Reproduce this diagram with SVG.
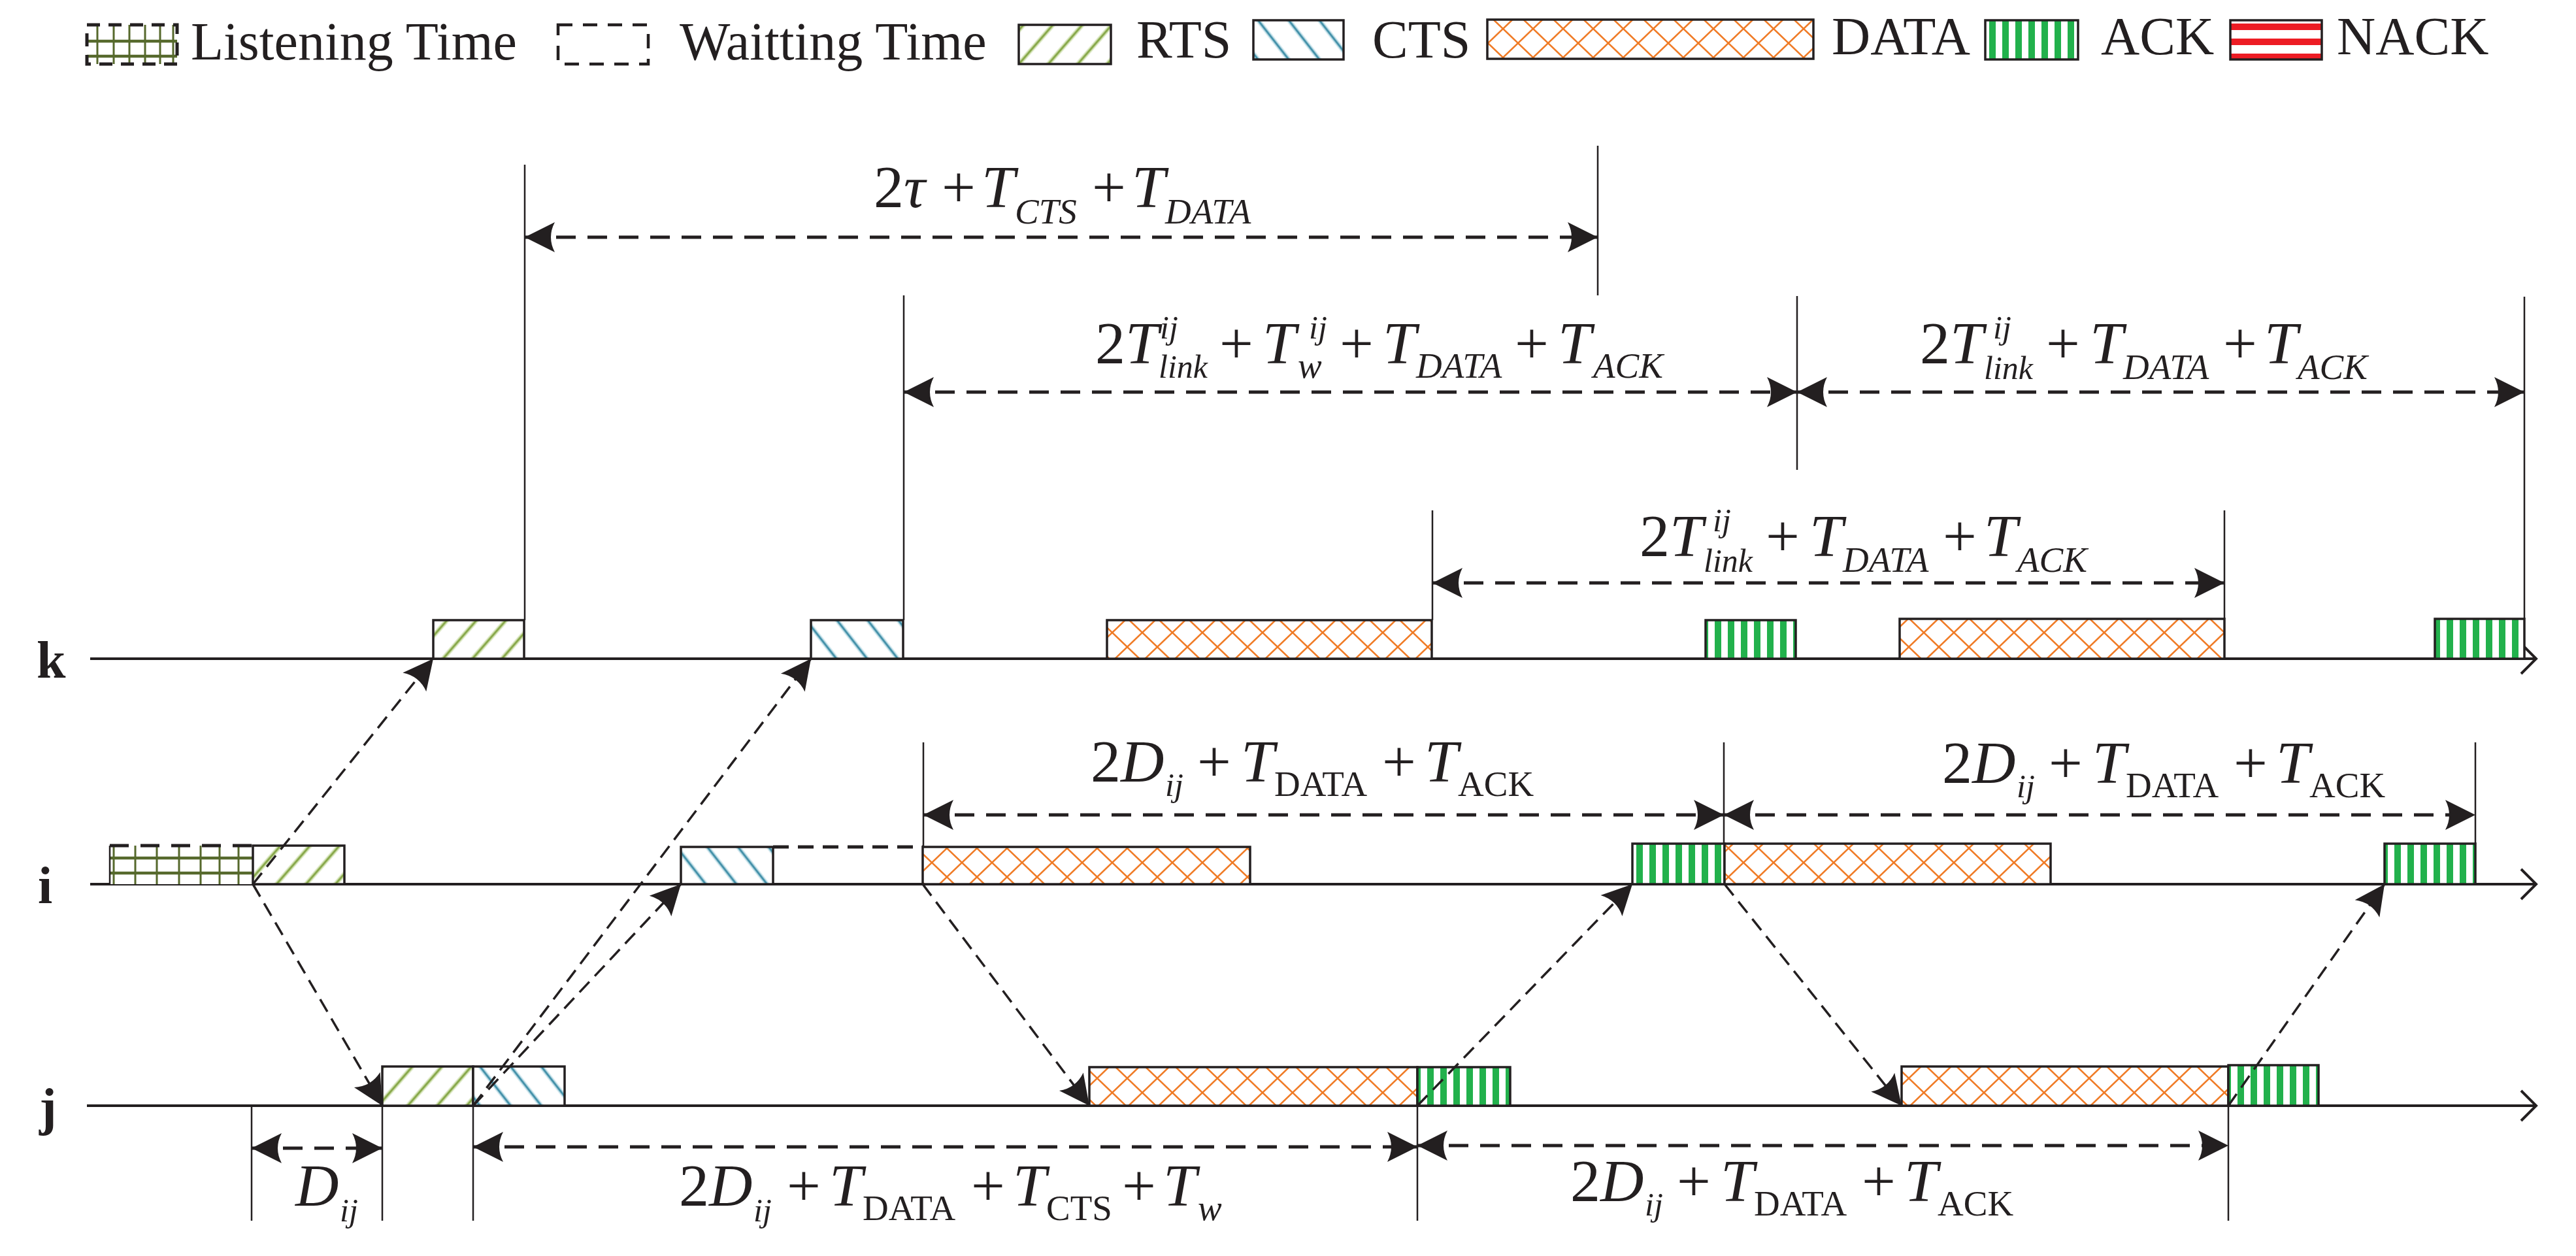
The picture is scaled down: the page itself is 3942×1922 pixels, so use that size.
<svg xmlns="http://www.w3.org/2000/svg" width="3942" height="1922" viewBox="0 0 3942 1922">
<style>
.t{font-family:"Liberation Serif","Times New Roman",serif;fill:#231f20}
.lg{font-size:82px}
.ax{font-size:80px;font-weight:bold}
.m{font-size:92px}
.i{font-style:italic}
.s{font-size:55px}
.ss{font-size:50px}
.box{stroke:#231f20;stroke-width:3.5}
.axis{stroke:#231f20;stroke-width:4;fill:none}
.ext{stroke:#231f20;stroke-width:2.5;fill:none}
.dim{stroke:#231f20;stroke-width:5;stroke-dasharray:30 18;fill:none;marker-start:url(#arr);marker-end:url(#arr)}
.dg{stroke:#231f20;stroke-width:3.5;stroke-dasharray:22 12;fill:none;marker-end:url(#arr)}
.grid{stroke:#56692c;fill:none}
</style>
<defs>
<marker id="arr" markerUnits="userSpaceOnUse" viewBox="-48 -25 50 50" markerWidth="50" markerHeight="50" refX="0" refY="0" orient="auto-start-reverse">
<path d="M0,0 L-46,-23 Q-34,0 -46,23 Z" fill="#231f20"/>
</marker>
<pattern id="pRTS" patternUnits="userSpaceOnUse" width="34" height="34" patternTransform="rotate(41)">
<rect width="34" height="34" fill="#fff"/>
<line x1="17" y1="-2" x2="17" y2="36" stroke="#d5e4b9" stroke-width="7"/>
<line x1="17" y1="-2" x2="17" y2="36" stroke="#85a646" stroke-width="3"/>
</pattern>
<pattern id="pCTS" patternUnits="userSpaceOnUse" width="37" height="37" patternTransform="rotate(-38)">
<rect width="37" height="37" fill="#fff"/>
<line x1="18" y1="-2" x2="18" y2="39" stroke="#c6e2ea" stroke-width="7"/>
<line x1="18" y1="-2" x2="18" y2="39" stroke="#3f8ea7" stroke-width="3"/>
</pattern>
<pattern id="pDATA" patternUnits="userSpaceOnUse" width="46" height="44">
<rect width="46" height="44" fill="#fff"/>
<path d="M0,0 L46,44 M46,0 L0,44" stroke="#f07b26" stroke-width="2.6" fill="none"/>
</pattern>
<pattern id="pACK" patternUnits="userSpaceOnUse" width="20" height="20">
<rect width="20" height="20" fill="#fff"/>
<rect x="4" width="10" height="20" fill="#22b14c"/>
</pattern>
<pattern id="pNACK" patternUnits="userSpaceOnUse" width="20" height="23">
<rect width="20" height="23" fill="#fff"/>
<rect y="13" width="20" height="10" fill="#ed1c24"/>
</pattern>
</defs>
<rect width="3942" height="1922" fill="#fff"/>

<g id="legend">
<g id="legend-listening">
<rect x="133" y="38" width="138" height="60" fill="#fff"/>
<path class="grid" stroke-width="3" d="M149,38V98 M174,38V98 M198,38V98 M222,38V98 M245,38V98 M265,38V98"/>
<path class="grid" stroke-width="4.5" d="M133,63H271 M133,86H271"/>
<rect x="133" y="38" width="138" height="60" fill="none" stroke="#231f20" stroke-width="5" stroke-dasharray="20 13"/>
<text class="t lg" x="292" y="91">Listening Time</text>
</g>
<g id="legend-waiting">
<rect x="854" y="38" width="138" height="60" fill="none" stroke="#231f20" stroke-width="4.5" stroke-dasharray="22 16"/>
<text class="t lg" x="1040" y="91">Waitting Time</text>
</g>
<g id="legend-rts">
<rect class="box" x="1559" y="38" width="141" height="60" fill="url(#pRTS)"/>
<text class="t lg" x="1739" y="88">RTS</text>
</g>
<g id="legend-cts">
<rect class="box" x="1918" y="31" width="138" height="60" fill="url(#pCTS)"/>
<text class="t lg" x="2100" y="88">CTS</text>
</g>
<g id="legend-data">
<rect class="box" x="2276" y="30" width="499" height="60" fill="url(#pDATA)"/>
<text class="t lg" x="2803" y="83">DATA</text>
</g>
<g id="legend-ack">
<rect class="box" x="3038" y="31" width="142" height="60" fill="url(#pACK)"/>
<text class="t lg" x="3215" y="83">ACK</text>
</g>
<g id="legend-nack">
<rect class="box" x="3413" y="31" width="140" height="60" fill="url(#pNACK)"/>
<text class="t lg" x="3576" y="83">NACK</text>
</g>
</g>

<g id="axes">
<path class="axis" d="M138,1008H3881 M3858,985L3881,1008L3858,1031"/>
<path class="axis" d="M138,1353H3881 M3858,1330L3881,1353L3858,1376"/>
<path class="axis" d="M133,1692H3881 M3858,1669L3881,1692L3858,1715"/>
<text class="t ax" x="56" y="1037">k</text>
<text class="t ax" x="58" y="1382">i</text>
<text class="t ax" x="60" y="1721">j</text>
</g>

<g id="node-k">
<rect id="k-rts" class="box" x="663" y="949" width="139" height="59" fill="url(#pRTS)"/>
<rect id="k-cts" class="box" x="1241" y="949" width="141" height="59" fill="url(#pCTS)"/>
<rect id="k-data1" class="box" x="1694" y="949" width="497" height="59" fill="url(#pDATA)"/>
<rect id="k-ack1" class="box" x="2610" y="949" width="138" height="59" fill="url(#pACK)"/>
<rect id="k-data2" class="box" x="2907" y="947" width="497" height="61" fill="url(#pDATA)"/>
<rect id="k-ack2" class="box" x="3726" y="947" width="137" height="61" fill="url(#pACK)"/>
</g>

<g id="node-i">
<g id="i-listening">
<rect x="168" y="1294" width="219" height="59" fill="#fff"/>
<path class="grid" stroke-width="3" d="M174,1294V1353 M207,1294V1353 M240,1294V1353 M274,1294V1353 M307,1294V1353 M336,1294V1353 M365,1294V1353"/>
<path class="grid" stroke-width="4.5" d="M168,1313H387 M168,1336H387"/>
<path d="M168,1294H387" stroke="#231f20" stroke-width="5" stroke-dasharray="29 18" fill="none"/>
<path d="M168,1294V1353" stroke="#231f20" stroke-width="2.5" fill="none"/>
</g>
<rect id="i-rts" class="box" x="387" y="1294" width="140" height="59" fill="url(#pRTS)"/>
<rect id="i-cts" class="box" x="1042" y="1296" width="141" height="57" fill="url(#pCTS)"/>
<path id="i-wait" d="M1183,1296H1412" stroke="#231f20" stroke-width="5" stroke-dasharray="24 14" fill="none"/>
<rect id="i-data1" class="box" x="1412" y="1296" width="501" height="57" fill="url(#pDATA)"/>
<rect id="i-ack1" class="box" x="2498" y="1291" width="141" height="62" fill="url(#pACK)"/>
<rect id="i-data2" class="box" x="2639" y="1291" width="499" height="62" fill="url(#pDATA)"/>
<rect id="i-ack2" class="box" x="3649" y="1291" width="139" height="62" fill="url(#pACK)"/>
</g>

<g id="node-j">
<rect id="j-rts" class="box" x="585" y="1632" width="139" height="60" fill="url(#pRTS)"/>
<rect id="j-cts" class="box" x="724" y="1632" width="140" height="60" fill="url(#pCTS)"/>
<rect id="j-data1" class="box" x="1667" y="1633" width="502" height="59" fill="url(#pDATA)"/>
<rect id="j-ack1" class="box" x="2169" y="1633" width="142" height="59" fill="url(#pACK)"/>
<rect id="j-data2" class="box" x="2910" y="1632" width="500" height="60" fill="url(#pDATA)"/>
<rect id="j-ack2" class="box" x="3410" y="1630" width="138" height="62" fill="url(#pACK)"/>
</g>

<g id="connectors">
<path class="ext" d="M803,252V949 M2445,223V452 M1383,452V949 M2750,453V719 M3863,454V947 M2192,781V949 M3404,781V947 M1413,1136V1296 M2638,1136V1291 M3788,1136V1291 M385,1692V1868 M585,1692V1868 M724,1692V1868 M2169,1692V1868 M3410,1692V1868"/>
<path class="dim" d="M803,363H2445"/>
<path class="dim" d="M1383,600H2750"/>
<path class="dim" d="M2750,600H3863"/>
<path class="dim" d="M2192,892H3404"/>
<path class="dim" d="M1413,1247H2638"/>
<path class="dim" d="M2638,1247H3788"/>
<path class="dim" d="M385,1757H585"/>
<path class="dim" d="M724,1755H2169"/>
<path class="dim" d="M2169,1753H3410"/>
<path class="dg" d="M387,1353L663,1008"/>
<path class="dg" d="M387,1353L585,1692"/>
<path class="dg" d="M724,1692L1042,1353"/>
<path class="dg" d="M724,1692L1241,1008"/>
<path class="dg" d="M1412,1353L1667,1692"/>
<path class="dg" d="M2169,1692L2498,1353"/>
<path class="dg" d="M2639,1353L2910,1692"/>
<path class="dg" d="M3410,1692L3649,1353"/>
</g>

<g id="labels">
<text class="t m" y="317"><tspan x="1337">2</tspan><tspan x="1383" class="i">τ</tspan><tspan x="1441">+</tspan><tspan x="1502" class="i">T</tspan><tspan x="1553" y="342" class="i s">CTS</tspan><tspan x="1671" y="317">+</tspan><tspan x="1732" class="i">T</tspan><tspan x="1783" y="342" class="i s">DATA</tspan></text>

<text class="t m" y="556"><tspan x="1676">2</tspan><tspan x="1722" class="i">T</tspan><tspan x="1775" y="518" class="i ss">ij</tspan><tspan x="1773" y="578" class="i ss">link</tspan><tspan x="1866" y="556">+</tspan><tspan x="1932" class="i">T</tspan><tspan x="2003" y="518" class="i ss">ij</tspan><tspan x="1986" y="578" class="i s">w</tspan><tspan x="2050" y="556">+</tspan><tspan x="2116" class="i">T</tspan><tspan x="2167" y="578" class="i s">DATA</tspan><tspan x="2318" y="556">+</tspan><tspan x="2384" class="i">T</tspan><tspan x="2438" y="578" class="i s">ACK</tspan></text>

<text class="t m" y="556"><tspan x="2938">2</tspan><tspan x="2984" class="i">T</tspan><tspan x="3050" y="518" class="i ss">ij</tspan><tspan x="3036" y="580" class="i ss">link</tspan><tspan x="3131" y="556">+</tspan><tspan x="3198" class="i">T</tspan><tspan x="3249" y="580" class="i s">DATA</tspan><tspan x="3402" y="556">+</tspan><tspan x="3465" class="i">T</tspan><tspan x="3516" y="580" class="i s">ACK</tspan></text>

<text class="t m" y="851"><tspan x="2509">2</tspan><tspan x="2555" class="i">T</tspan><tspan x="2621" y="813" class="i ss">ij</tspan><tspan x="2607" y="875" class="i ss">link</tspan><tspan x="2702" y="851">+</tspan><tspan x="2769" class="i">T</tspan><tspan x="2820" y="875" class="i s">DATA</tspan><tspan x="2973" y="851">+</tspan><tspan x="3036" class="i">T</tspan><tspan x="3087" y="875" class="i s">ACK</tspan></text>

<text class="t m" y="1196"><tspan x="1669">2</tspan><tspan x="1715" class="i">D</tspan><tspan x="1783" y="1218" class="i ss">ij</tspan><tspan x="1832" y="1196">+</tspan><tspan x="1899" class="i">T</tspan><tspan x="1950" y="1218" class="s">DATA</tspan><tspan x="2115" y="1196">+</tspan><tspan x="2180" class="i">T</tspan><tspan x="2231" y="1218" class="s">ACK</tspan></text>

<text class="t m" y="1198"><tspan x="2972">2</tspan><tspan x="3018" class="i">D</tspan><tspan x="3086" y="1220" class="i ss">ij</tspan><tspan x="3135" y="1198">+</tspan><tspan x="3202" class="i">T</tspan><tspan x="3253" y="1220" class="s">DATA</tspan><tspan x="3418" y="1198">+</tspan><tspan x="3483" class="i">T</tspan><tspan x="3534" y="1220" class="s">ACK</tspan></text>

<text class="t m" y="1845"><tspan x="452" class="i">D</tspan><tspan x="520" y="1869" class="i ss">ij</tspan></text>

<text class="t m" y="1845"><tspan x="1039">2</tspan><tspan x="1085" class="i">D</tspan><tspan x="1153" y="1869" class="i ss">ij</tspan><tspan x="1204" y="1845">+</tspan><tspan x="1269" class="i">T</tspan><tspan x="1320" y="1867" class="s">DATA</tspan><tspan x="1486" y="1845">+</tspan><tspan x="1550" class="i">T</tspan><tspan x="1601" y="1867" class="s">CTS</tspan><tspan x="1717" y="1845">+</tspan><tspan x="1780" class="i">T</tspan><tspan x="1833" y="1867" class="i s">w</tspan></text>

<text class="t m" y="1838"><tspan x="2403">2</tspan><tspan x="2449" class="i">D</tspan><tspan x="2517" y="1860" class="i ss">ij</tspan><tspan x="2566" y="1838">+</tspan><tspan x="2633" class="i">T</tspan><tspan x="2684" y="1860" class="s">DATA</tspan><tspan x="2849" y="1838">+</tspan><tspan x="2914" class="i">T</tspan><tspan x="2965" y="1860" class="s">ACK</tspan></text>
</g>
</svg>
